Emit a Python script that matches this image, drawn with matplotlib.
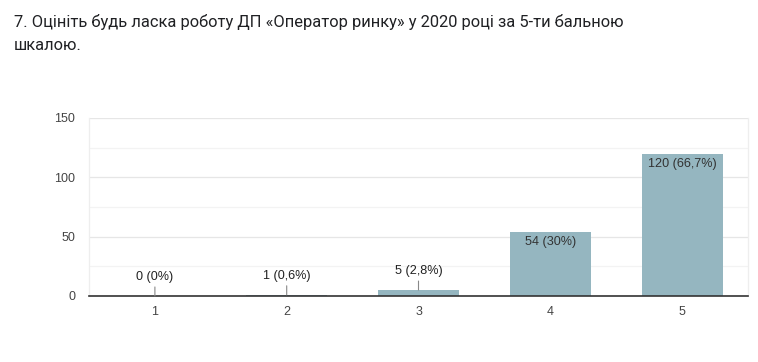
import matplotlib
matplotlib.use("Agg")
import matplotlib.pyplot as plt

categories = ["1", "2", "3", "4", "5"]
values = [0, 1, 5, 54, 120]
labels = ["0 (0%)", "1 (0,6%)", "5 (2,8%)", "54 (30%)", "120 (66,7%)"]
title = "7. Оцініть будь ласка роботу ДП «Оператор ринку» у 2020 році за 5-ти бальною\nшкалою."

plt.rcParams['font.family'] = ['Liberation Sans', 'DejaVu Sans']

fig = plt.figure(figsize=(7.58, 3.62), dpi=100)
ax = fig.add_axes([89/758, 1-296/362, (748-89)/758, (296-118)/362])

x = list(range(1, len(categories)+1))
bar_color = "#95b6c0"
ax.bar(x, values, width=0.615, color=bar_color, zorder=3)

ax.set_xlim(0.5, 5.5)
ax.set_ylim(0, 150)
ax.set_yticks([0, 50, 100, 150])
ax.set_yticks([25, 75, 125], minor=True)
ax.set_xticks(x)
ax.set_xticklabels(categories)
ax.grid(axis='y', which='major', color='#e6e6e6', linewidth=0.9, zorder=0)
ax.grid(axis='y', which='minor', color='#f3f3f3', linewidth=0.9, zorder=0)
ax.tick_params(axis='both', which='both', length=0, labelsize=9, colors='#444444')
ax.tick_params(axis='x', pad=7)
ax.tick_params(axis='y', pad=10)
ax.spines['top'].set_visible(False)
for s in ['left', 'right']:
    ax.spines[s].set_color('#eeeeee')
    ax.spines[s].set_linewidth(0.9)
ax.spines['bottom'].set_color('#333333')
ax.spines['bottom'].set_linewidth(1.2)
ax.spines['bottom'].set_zorder(4)

for xi, v, lab in zip(x, values, labels):
    if v >= 20:
        ax.annotate(lab, (xi, v), xytext=(0, -3), textcoords='offset points',
                    ha='center', va='top', fontsize=9.1, color='#333333', zorder=5)
    else:
        ax.annotate(lab, (xi, v), xytext=(0, 9.5), textcoords='offset points',
                    ha='center', va='bottom', fontsize=9.1, color='#222222', zorder=5,
                    arrowprops=dict(arrowstyle='-', color='#888888', lw=0.8,
                                    shrinkA=1, shrinkB=0))

fig.text(14/758, 1-14/362, title, ha='left', va='top', fontsize=11.9,
         color='#202124', linespacing=1.7, family=['Roboto', 'DejaVu Sans'])

fig.savefig("out.png", dpi=100)
